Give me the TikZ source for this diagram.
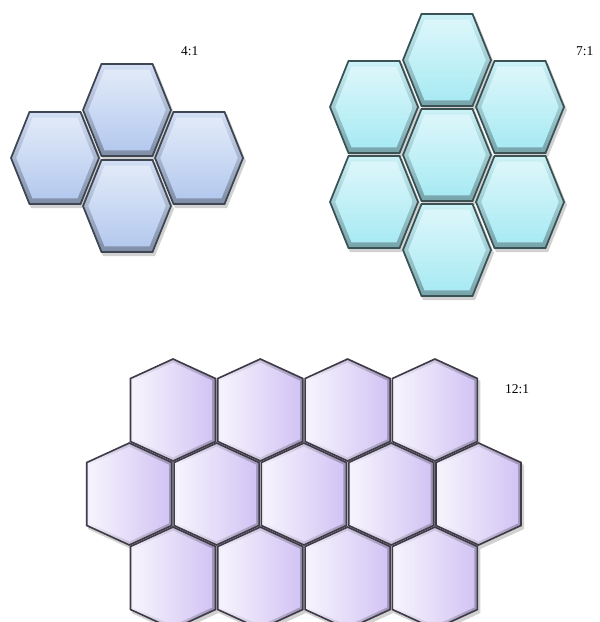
\documentclass[tikz,border=0pt]{standalone}
\usepackage{fontspec}
\setmainfont{Liberation Serif}
\tikzset{
  x=0.03cm, y=-0.03cm,
  lbl/.style={font=\fontsize{11.5}{13}\selectfont, inner sep=0pt, anchor=west},
  shad/.style={fill=black, opacity=0.18},
  Aouter/.style={top color=#1!60!white, bottom color=#1!70!black, draw=#1!35!black, line width=1.5pt},
  Ainner/.style={top color=#1!40!white, bottom color=#1},
}
\definecolor{blueA}{HTML}{B4C9EE}
\definecolor{cyanB}{HTML}{A8EAF3}
\definecolor{lavC}{HTML}{D2C4F4}
\newcommand\hexflat[3]{%
  \fill[shad,shift={(#1+2,#2+3)}] (-45,0)--(-26,-47)--(26,-47)--(45,0)--(26,47)--(-26,47)--cycle;
  \path[Aouter=#3,shift={(#1,#2)}] (-44,0)--(-25.5,-46)--(25.5,-46)--(44,0)--(25.5,46)--(-25.5,46)--cycle;
  \path[Ainner=#3,shift={(#1,#2)},scale=0.88] (-44,0)--(-25.5,-46)--(25.5,-46)--(44,0)--(25.5,46)--(-25.5,46)--cycle;
}
\newcommand\hexpoint[2]{%
  \fill[shad,shift={(#1+2,#2+3)}] (0,-52)--(43.5,-32)--(43.5,32)--(0,52)--(-43.5,32)--(-43.5,-32)--cycle;
  \path[left color=lavC!25!white, right color=lavC!75!black, draw=lavC!30!black, line width=1.4pt, shift={(#1,#2)}]
     (0,-51)--(42.5,-31.5)--(42.5,31.5)--(0,51)--(-42.5,31.5)--(-42.5,-31.5)--cycle;
  \path[left color=lavC!20!white, right color=lavC, shift={(#1,#2)}, scale=0.93]
     (0,-51)--(42.5,-31.5)--(42.5,31.5)--(0,51)--(-42.5,31.5)--(-42.5,-31.5)--cycle;
}
\begin{document}
\begin{tikzpicture}
\useasboundingbox (0,0) rectangle (600,622);
\clip (0,0) rectangle (600,622);
\fill[white] (0,0) rectangle (600,622);
% 4:1
\hexflat{127}{110}{blueA}
\hexflat{55}{158}{blueA}
\hexflat{199}{158}{blueA}
\hexflat{127}{206}{blueA}
\node[lbl] (r4) at (181,51) {4:1};
% 7:1
\hexflat{447}{60}{cyanB}
\hexflat{374}{107}{cyanB}
\hexflat{520}{107}{cyanB}
\hexflat{447}{155}{cyanB}
\hexflat{374}{202}{cyanB}
\hexflat{520}{202}{cyanB}
\hexflat{447}{250}{cyanB}
\node[lbl] (r7) at (576,51) {7:1};
% 12:1
\foreach \xx in {173,260.3,347.6,434.9} {\hexpoint{\xx}{410}}
\foreach \xx in {129.3,216.6,303.9,391.2,478.5} {\hexpoint{\xx}{494}}
\foreach \xx in {173,260.3,347.6,434.9} {\hexpoint{\xx}{578}}
\node[lbl] (r12) at (505,389) {12:1};
\end{tikzpicture}
\end{document}
